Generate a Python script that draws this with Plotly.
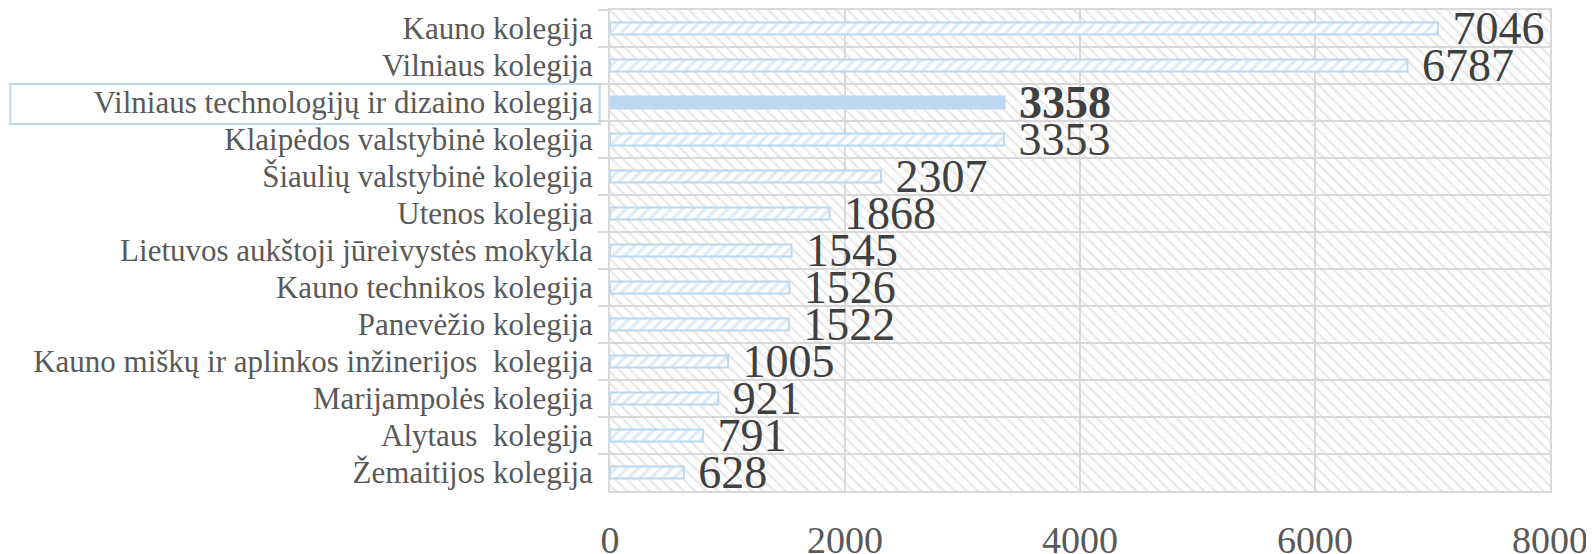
# Lithuanian colleges - horizontal bar chart
import plotly.graph_objects as go

# Data (top to bottom as shown)
colleges = [
    'Kauno kolegija',
    'Vilniaus kolegija',
    'Vilniaus technologijų ir dizaino kolegija',
    'Klaipėdos valstybinė kolegija',
    'Šiaulių valstybinė kolegija',
    'Utenos kolegija',
    'Lietuvos aukštoji jūreivystės mokykla',
    'Kauno technikos kolegija',
    'Panevėžio kolegija',
    'Kauno miškų ir aplinkos inžinerijos\u00a0 kolegija',
    'Marijampolės kolegija',
    'Alytaus\u00a0 kolegija',
    'Žemaitijos kolegija',
]
students = [7046, 6787, 3358, 3353, 2307, 1868, 1545, 1526, 1522, 1005, 921, 791, 628]
x_ticks = [0, 2000, 4000, 6000, 8000]
highlight = 'Vilniaus technologijų ir dizaino kolegija'

axis_max = x_ticks[-1]
label_font = 'Liberation Serif'

# highlighted bar is solid, the others hatched
shapes = ['' if c == highlight else '/' for c in colleges]
labels = ['\u00a0<b>%d</b>' % v if c == highlight else '\u00a0%d' % v
          for c, v in zip(colleges, students)]

fig = go.Figure()

# hatched background of the plot area
fig.add_trace(go.Bar(
    y=colleges, x=[axis_max] * len(colleges), orientation='h', width=1,
    marker=dict(color='rgba(0,0,0,0)', line=dict(width=0),
                pattern=dict(shape='\\', fgcolor='#d3d3d3', bgcolor='rgba(0,0,0,0)',
                             size=8, solidity=0.3)),
    hoverinfo='skip', showlegend=False,
))

fig.add_trace(go.Bar(
    y=colleges, x=students, orientation='h', width=0.33,
    marker=dict(color='#bdd7ee', line=dict(color='#bdd7ee', width=2),
                pattern=dict(shape=shapes, fgcolor='#bdd7ee', bgcolor='white',
                             size=8, solidity=0.4)),
    text=labels, textposition='outside', constraintext='none', cliponaxis=False,
    textfont=dict(family=label_font, size=46, color='#404040'),
    showlegend=False,
))

# box around the highlighted label
fig.add_shape(type='rect', xref='paper', yref='paper',
              x0=-0.638, x1=-0.011, y0=0.763, y1=0.846,
              line=dict(color='#bdd7ee', width=2))

# page body adds an 8px offset, so the figure is sized to fit the window
fig.update_layout(
    width=1586, height=546,
    margin=dict(l=602, r=44, t=2, b=63),
    barmode='overlay',
    plot_bgcolor='white', paper_bgcolor='white',
    font=dict(family=label_font, color='#595959'),
    xaxis=dict(range=[0, axis_max], tickvals=x_ticks, showgrid=True, gridcolor='#d9d9d9',
               gridwidth=2, zeroline=False, showline=True, mirror=True, linecolor='#d9d9d9',
               linewidth=2, tickfont=dict(size=38, color='#595959'), ticklabelstandoff=14,
               automargin=False),
    yaxis=dict(autorange='reversed', tickson='boundaries', showgrid=True, gridcolor='#d9d9d9',
               gridwidth=2, ticks='outside', ticklen=10, tickcolor='#d9d9d9', tickwidth=2,
               showline=True, mirror=True, linecolor='#d9d9d9', linewidth=2,
               ticklabelstandoff=9,
               tickfont=dict(size=31, color='#595959'), automargin=False),
)

fig.write_html('out.html')
